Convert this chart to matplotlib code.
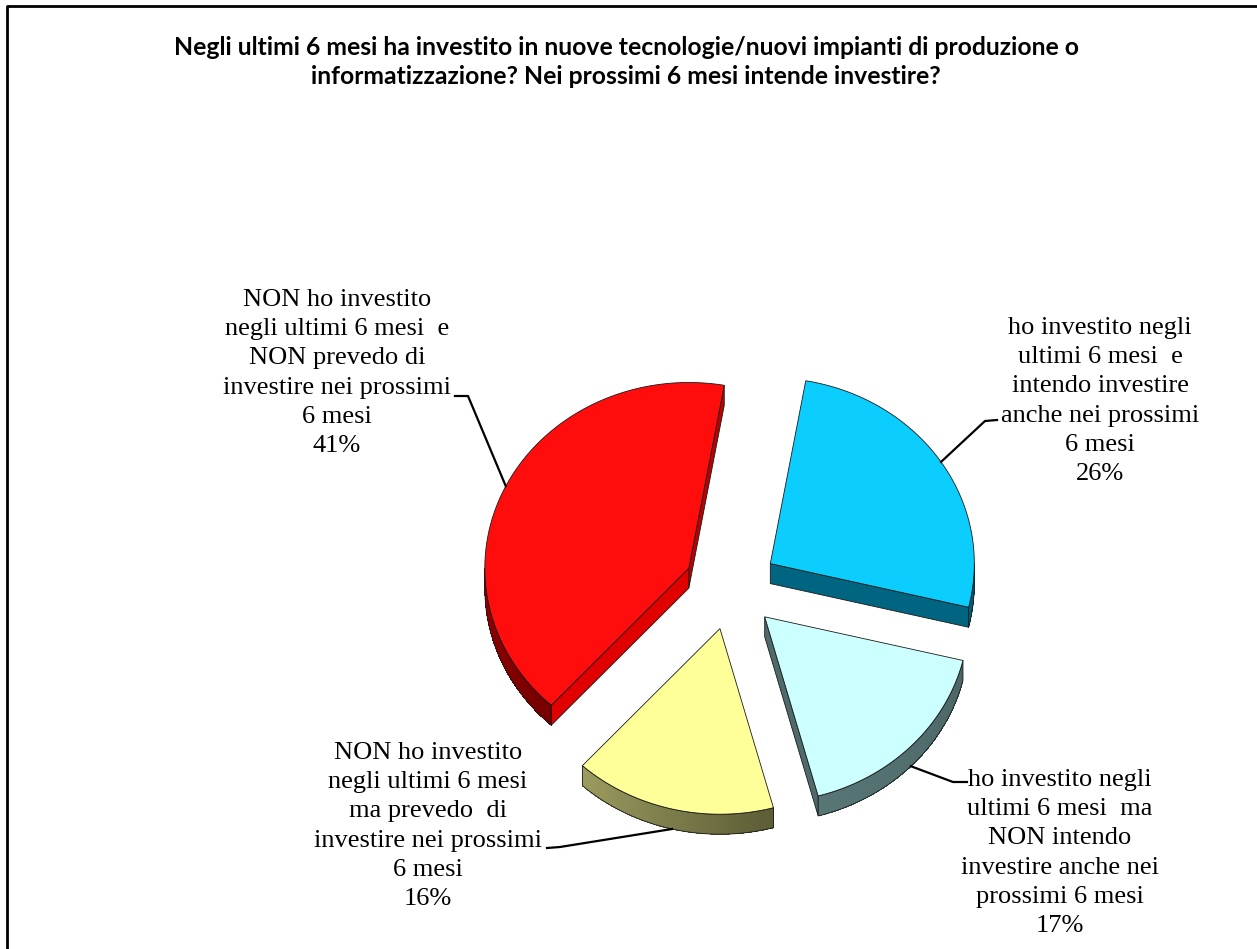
import numpy as np
import matplotlib.pyplot as plt
from matplotlib.colors import to_rgb

# survey answers, clockwise from the top-right slice
categories = ["ho investito negli\nultimi 6 mesi  e\nintendo investire\nanche nei prossimi\n6 mesi",
              "ho investito negli\nultimi 6 mesi  ma\nNON intendo\ninvestire anche nei\nprossimi 6 mesi",
              "NON ho investito\nnegli ultimi 6 mesi\nma prevedo  di\ninvestire nei prossimi\n6 mesi",
              "NON ho investito\nnegli ultimi 6 mesi  e\nNON prevedo di\ninvestire nei prossimi\n6 mesi"]
values = [26, 17, 16, 41]

title = ("Negli ultimi 6 mesi ha investito in nuove tecnologie/nuovi impianti di produzione o\n"
         "informatizzazione? Nei prossimi 6 mesi intende investire?")

# face colours: top, side (start, end of arc), radial cut
top_col = ['#0BCEFE', '#CCFFFF', '#FFFF99', '#FF0D0D']
side_col = [('#005E78', '#005E78'), ('#587676', '#4C6666'),
            ('#9C9C60', '#5C5C36'), ('#D40000', '#760000')]
cut_col = ['#006580', '#4F6A6A', '#7A7A48', '#E00000']
cut_lo_col = ['#006580', '#4F6A6A', '#7A7A48', '#BE0000']

# pie layout in pixels
CX, CY = 731, 587
R = 204
K = 0.91          # vertical squash from the tilt
EXPLODE = 47
DEPTH = 20
START = 80

# label placement (text centre, leader stub start/end)
label_xy = [(1100, 401), (1060, 853), (428, 826), (337, 373)]
stub = [((997, 420), (985, 421)), ((967, 782), (953, 782)),
        ((547, 848), (560, 847)), ((455, 396), (468, 396))]

W, H = 1257, 949
fig = plt.figure(figsize=(W / 100, H / 100), dpi=100)
ax = fig.add_axes([0, 0, 1, 1])
ax.set_xlim(0, W)
ax.set_ylim(H, 0)
ax.axis('off')

# chart frame (right and bottom edges fall outside)
ax.plot([7, 7, W + 5], [H + 5, 6, 6], color='black', lw=2, solid_capstyle='butt')


def pt(theta, m, r, dz=0.0):
    t = np.radians(theta)
    mm = np.radians(m)
    x = CX + EXPLODE * np.cos(mm) + r * np.cos(t)
    y = CY - K * (EXPLODE * np.sin(mm) + r * np.sin(t)) + dz
    return x, y


def mix(c0, c1, f):
    a = np.array(to_rgb(c0))
    b = np.array(to_rgb(c1))
    return tuple(a + (b - a) * f)


edge = '#1a1a1a'
total = float(sum(values))
hi_ang = START
for i, v in enumerate(values):
    span = 360.0 * v / total
    lo = hi_ang - span
    hi_ang = lo
    lo_n = lo % 360
    hi_n = lo_n + span
    mid = (lo_n + hi_n) / 2

    # radial cut faces that face the viewer
    for ang, visible, col in ((lo_n, np.cos(np.radians(lo_n)) > 0, cut_lo_col[i]),
                              (hi_n, np.cos(np.radians(hi_n)) < 0, cut_col[i])):
        if not visible:
            continue
        ax0, ay0 = pt(ang, mid, 0)
        ax1, ay1 = pt(ang, mid, R)
        ax.fill([ax0, ax1, ax1, ax0], [ay0, ay1, ay1 + DEPTH, ay0 + DEPTH],
                facecolor=col, edgecolor=edge, lw=0.6, zorder=2)

    # outer rim, lower half only
    for a0, a1 in ((180, 360), (540, 720)):
        s0 = max(lo_n, a0)
        s1 = min(hi_n, a1)
        if s1 <= s0:
            continue
        th = np.linspace(s0, s1, 60)
        for j in range(len(th) - 1):
            f = ((th[j] + th[j + 1]) / 2 - lo_n) / span
            x0, y0 = pt(th[j], mid, R)
            x1, y1 = pt(th[j + 1], mid, R)
            ax.fill([x0, x1, x1, x0], [y0, y1, y1 + DEPTH, y0 + DEPTH],
                    facecolor=mix(side_col[i][0], side_col[i][1], f),
                    edgecolor='none', lw=0, zorder=2, antialiased=False)
        xs, ys = pt(th, mid, R)
        ax.fill(np.r_[xs, xs[::-1]], np.r_[ys, ys[::-1] + DEPTH],
                facecolor='none', edgecolor=edge, lw=0.6, zorder=2.5)

    # top face
    th = np.linspace(lo_n, hi_n, 120)
    xs, ys = pt(th, mid, R)
    x0, y0 = pt(mid, mid, 0)
    ax.fill(np.r_[x0, xs], np.r_[y0, ys], facecolor=top_col[i],
            edgecolor=edge, lw=0.6, zorder=3)

    # leader line to the middle of the rim
    ex, ey = pt(mid, mid, R, DEPTH if np.sin(np.radians(mid)) < 0 else 0)
    (sx0, sy0), (sx1, sy1) = stub[i]
    ax.plot([sx0, sx1, ex], [sy0, sy1, ey], color='black', lw=1.6, zorder=4)

    lx, ly = label_xy[i]
    ax.text(lx, ly, categories[i] + "\n%d%%" % v, ha='center', va='center',
            family='Liberation Serif', fontsize=19, linespacing=1.43,
            color='black', zorder=5)

fig.text(626 / W, 1 - 62 / H, title, ha='center', va='center',
         family='Lato', weight='bold', fontsize=17.8, linespacing=1.32)

fig.savefig('out.png', dpi=100, facecolor='white')
